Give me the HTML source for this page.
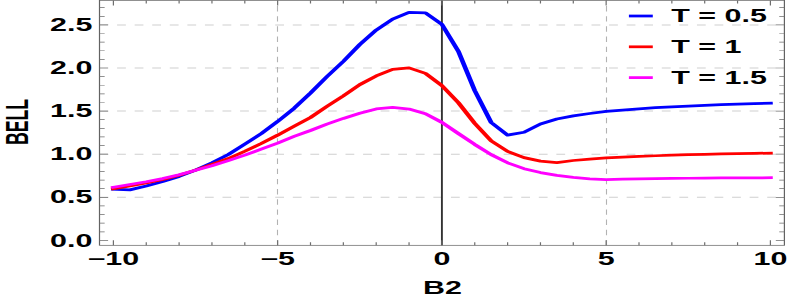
<!DOCTYPE html>
<html><head><meta charset="utf-8"><title>BELL vs B2</title><style>
html,body{margin:0;padding:0;background:#fff;}body{width:793px;height:300px;overflow:hidden;}svg{display:block;}text{font-family:"Liberation Sans",sans-serif;font-weight:bold;fill:#000;}
</style></head><body>
<svg width="793" height="300" viewBox="0 0 793 300">
<rect x="0" y="0" width="793" height="300" fill="#fff"/>
<g transform="scale(1.7200,1)">
<line x1="57.85" y1="197.30" x2="456.05" y2="197.30" stroke="#cfcfcf" stroke-width="1" stroke-dasharray="5.108 5.108"/>
<line x1="57.85" y1="154.20" x2="456.05" y2="154.20" stroke="#cfcfcf" stroke-width="1" stroke-dasharray="5.108 5.108"/>
<line x1="57.85" y1="111.10" x2="456.05" y2="111.10" stroke="#cfcfcf" stroke-width="1" stroke-dasharray="5.108 5.108"/>
<line x1="57.85" y1="68.00" x2="456.05" y2="68.00" stroke="#cfcfcf" stroke-width="1" stroke-dasharray="5.108 5.108"/>
<line x1="57.85" y1="24.90" x2="456.05" y2="24.90" stroke="#cfcfcf" stroke-width="1" stroke-dasharray="5.108 5.108"/>
<line x1="161.337" y1="0.50" x2="161.337" y2="245.30" stroke="#b2b2b2" stroke-width="0.64" stroke-dasharray="5.4 4.77" stroke-dashoffset="4.67"/>
<line x1="352.616" y1="0.50" x2="352.616" y2="245.30" stroke="#b2b2b2" stroke-width="0.64" stroke-dasharray="5.4 4.77" stroke-dashoffset="4.67"/>
<line x1="256.92" y1="0.50" x2="256.92" y2="245.30" stroke="#333" stroke-width="1.1"/>
<path d="M65.93 189.20 L75.48 189.89 L85.03 186.09 L94.58 181.61 L104.13 176.44 L113.68 170.15 L123.23 162.76 L132.78 154.47 L142.33 144.17 L151.87 133.68 L161.42 121.44 L170.97 108.34 L180.52 93.00 L190.07 76.62 L199.62 61.36 L209.17 44.55 L218.72 30.07 L228.27 19.04 L237.82 12.40 L247.37 12.83 L256.92 24.38 L266.47 51.19 L276.02 90.67 L285.57 122.48 L295.12 135.06 L304.67 132.22 L314.22 124.03 L323.76 119.03 L333.31 115.84 L342.86 113.51 L352.41 111.44 L361.96 110.07 L371.51 108.77 L381.06 107.74 L390.61 106.79 L400.16 106.01 L409.71 105.32 L419.26 104.72 L428.81 104.20 L438.36 103.60 L447.91 103.17" fill="none" stroke="#0000ff" stroke-width="2.75" stroke-linejoin="round" stroke-linecap="square"/>
<path d="M65.93 188.68 L75.48 185.92 L85.03 182.90 L94.58 179.54 L104.13 175.23 L113.68 170.15 L123.23 164.48 L132.78 158.54 L142.33 151.26 L151.87 143.50 L161.42 135.14 L170.97 126.36 L180.52 117.48 L190.07 106.36 L199.62 95.84 L209.17 84.64 L218.72 75.93 L228.27 69.38 L237.82 67.83 L247.37 73.34 L256.92 85.67 L266.47 102.57 L276.02 123.43 L285.57 140.84 L295.12 151.44 L304.67 157.65 L314.22 161.10 L323.76 162.65 L333.31 160.49 L342.86 159.11 L352.41 157.99 L361.96 157.04 L371.51 156.36 L381.06 155.75 L390.61 155.23 L400.16 154.72 L409.71 154.29 L419.26 153.94 L428.81 153.60 L438.36 153.34 L447.91 153.17" fill="none" stroke="#ff0000" stroke-width="2.75" stroke-linejoin="round" stroke-linecap="square"/>
<path d="M65.93 187.21 L75.48 184.54 L85.03 181.70 L94.58 178.59 L104.13 174.72 L113.68 170.32 L123.23 165.78 L132.78 160.61 L142.33 155.14 L151.87 149.11 L161.42 143.07 L170.97 136.43 L180.52 130.50 L190.07 124.12 L199.62 118.43 L209.17 113.25 L218.72 108.95 L228.27 107.48 L237.82 109.03 L247.37 113.69 L256.92 122.39 L266.47 133.51 L276.02 144.46 L285.57 154.63 L295.12 162.82 L304.67 168.68 L314.22 172.56 L323.76 175.41 L333.31 177.39 L342.86 178.77 L352.41 179.63 L361.96 179.20 L371.51 178.85 L381.06 178.59 L390.61 178.42 L400.16 178.25 L409.71 178.08 L419.26 177.99 L428.81 177.91 L438.36 177.82 L447.91 177.73" fill="none" stroke="#ff00ff" stroke-width="2.75" stroke-linejoin="round" stroke-linecap="square"/>
<rect x="57.85" y="0.50" width="398.20" height="244.80" fill="none" stroke="#626262" stroke-width="0.7"/>
<path d="M57.85 240.40h5.00M456.05 240.40h-5.00M57.85 231.78h3.00M456.05 231.78h-3.00M57.85 223.16h3.00M456.05 223.16h-3.00M57.85 214.54h3.00M456.05 214.54h-3.00M57.85 205.92h3.00M456.05 205.92h-3.00M57.85 197.30h5.00M456.05 197.30h-5.00M57.85 188.68h3.00M456.05 188.68h-3.00M57.85 180.06h3.00M456.05 180.06h-3.00M57.85 171.44h3.00M456.05 171.44h-3.00M57.85 162.82h3.00M456.05 162.82h-3.00M57.85 154.20h5.00M456.05 154.20h-5.00M57.85 145.58h3.00M456.05 145.58h-3.00M57.85 136.96h3.00M456.05 136.96h-3.00M57.85 128.34h3.00M456.05 128.34h-3.00M57.85 119.72h3.00M456.05 119.72h-3.00M57.85 111.10h5.00M456.05 111.10h-5.00M57.85 102.48h3.00M456.05 102.48h-3.00M57.85 93.86h3.00M456.05 93.86h-3.00M57.85 85.24h3.00M456.05 85.24h-3.00M57.85 76.62h3.00M456.05 76.62h-3.00M57.85 68.00h5.00M456.05 68.00h-5.00M57.85 59.38h3.00M456.05 59.38h-3.00M57.85 50.76h3.00M456.05 50.76h-3.00M57.85 42.14h3.00M456.05 42.14h-3.00M57.85 33.52h3.00M456.05 33.52h-3.00M57.85 24.90h5.00M456.05 24.90h-5.00M57.85 16.28h3.00M456.05 16.28h-3.00M57.85 7.66h3.00M456.05 7.66h-3.00M65.93 245.30v-5.00M65.93 0.50v5.00M85.03 245.30v-3.00M85.03 0.50v3.00M104.13 245.30v-3.00M104.13 0.50v3.00M123.23 245.30v-3.00M123.23 0.50v3.00M142.33 245.30v-3.00M142.33 0.50v3.00M161.42 245.30v-5.00M161.42 0.50v5.00M180.52 245.30v-3.00M180.52 0.50v3.00M199.62 245.30v-3.00M199.62 0.50v3.00M218.72 245.30v-3.00M218.72 0.50v3.00M237.82 245.30v-3.00M237.82 0.50v3.00M256.92 245.30v-5.00M256.92 0.50v5.00M276.02 245.30v-3.00M276.02 0.50v3.00M295.12 245.30v-3.00M295.12 0.50v3.00M314.22 245.30v-3.00M314.22 0.50v3.00M333.31 245.30v-3.00M333.31 0.50v3.00M352.41 245.30v-5.00M352.41 0.50v5.00M371.51 245.30v-3.00M371.51 0.50v3.00M390.61 245.30v-3.00M390.61 0.50v3.00M409.71 245.30v-3.00M409.71 0.50v3.00M428.81 245.30v-3.00M428.81 0.50v3.00M447.91 245.30v-5.00M447.91 0.50v5.00" fill="none" stroke="#6e6e6e" stroke-width="0.7"/>
</g>
<line x1="628.90" y1="16.00" x2="652.80" y2="16.00" stroke="#0000ff" stroke-width="2.75"/>
<line x1="628.90" y1="46.80" x2="652.80" y2="46.80" stroke="#ff0000" stroke-width="2.75"/>
<line x1="628.90" y1="77.60" x2="652.80" y2="77.60" stroke="#ff00ff" stroke-width="2.75"/>
<g font-size="17.7" fill="#000">
<text transform="translate(50,246.55) scale(1.72,1)" x="0" y="0">0.0</text>
<text transform="translate(50,203.45) scale(1.72,1)" x="0" y="0">0.5</text>
<text transform="translate(50,160.35) scale(1.72,1)" x="0" y="0">1.0</text>
<text transform="translate(50,117.25) scale(1.72,1)" x="0" y="0">1.5</text>
<text transform="translate(50,74.15) scale(1.72,1)" x="0" y="0">2.0</text>
<text transform="translate(50,31.05) scale(1.72,1)" x="0" y="0">2.5</text>
<text transform="translate(113.4,264.9) scale(1.72,1)" x="0" y="0" text-anchor="middle">−10</text>
<text transform="translate(277.6,264.9) scale(1.72,1)" x="0" y="0" text-anchor="middle">−5</text>
<text transform="translate(441.9,264.9) scale(1.72,1)" x="0" y="0" text-anchor="middle">0</text>
<text transform="translate(606.1,264.9) scale(1.72,1)" x="0" y="0" text-anchor="middle">5</text>
<text transform="translate(770.4,264.9) scale(1.72,1)" x="0" y="0" text-anchor="middle">10</text>
<text transform="translate(442.5,293.75) scale(1.72,1)" x="0" y="0" text-anchor="middle">B2</text>
<text transform="translate(28,122) scale(1.72,1) rotate(-90)" x="0" y="0" text-anchor="middle">BELL</text>
<text transform="translate(671.3,21.72) scale(1.72,1)" x="0" y="0">T = 0.5</text>
<text transform="translate(671.3,52.72) scale(1.72,1)" x="0" y="0">T = 1</text>
<text transform="translate(671.3,83.72) scale(1.72,1)" x="0" y="0">T = 1.5</text>
</g>
</svg></body></html>
